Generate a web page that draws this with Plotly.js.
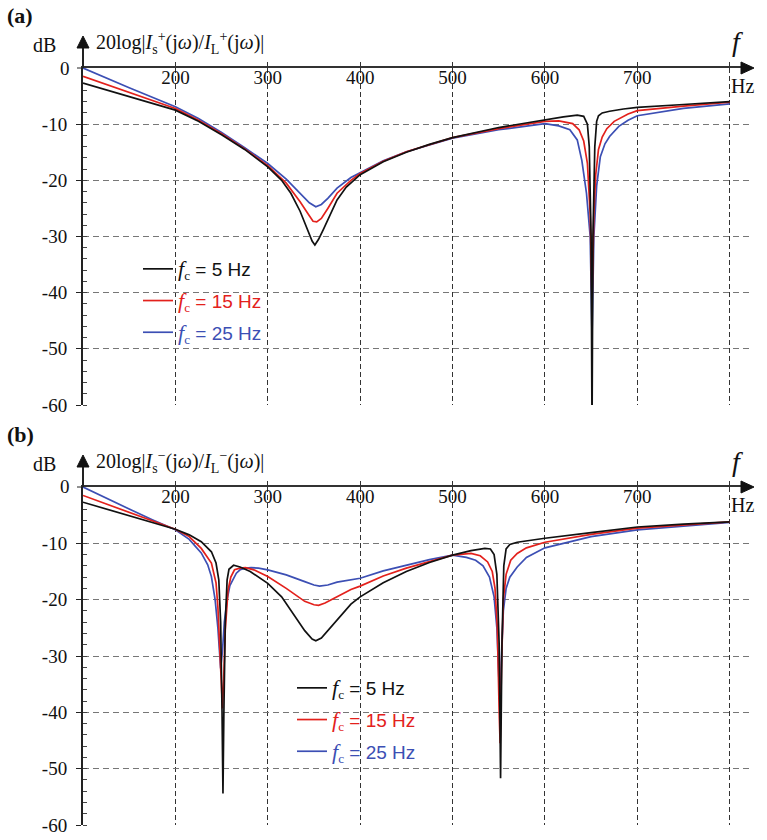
<!DOCTYPE html>
<html><head><meta charset="utf-8">
<script src="https://cdn.plot.ly/plotly-3.0.1.min.js"></script>
<style>html,body{margin:0;padding:0;background:#fff}#chart{width:767px;height:840px}</style>
</head><body><div id="chart"></div>
<script>
// ---------- data ----------
const fcValues = [5, 15, 25];
const seriesColors = ['#111111', '#e3211c', '#3c4fb4'];

const xTickVals = [200, 300, 400, 500, 600, 700, 800];
const xTickText = ['200', '300', '400', '500', '600', '700', ''];
const yTickVals = [0, -10, -20, -30, -40, -50, -60];
const yTickText = ['0', '-10', '-20', '-30', '-40', '-50', '-60'];

// Panel (a): positive sequence
const freqA5 = [100,125,150,175,200,225,250,275,300,315,325,335,342,348,351,355,360,368,375,385,400,425,450,475,500,550,600,620,635,642,646,648,650,651,652,654,656,658,662,670,685,700,750,800];
const dbA5   = [-2.7,-3.9,-5.0,-6.2,-7.5,-9.5,-11.9,-14.5,-17.6,-20.0,-22.3,-25.5,-28.3,-30.8,-31.5,-30.5,-28.8,-26.0,-23.5,-21.2,-19.0,-16.7,-15.0,-13.6,-12.4,-10.6,-9.2,-8.7,-8.4,-8.6,-10.0,-14.0,-30.0,-65.0,-30.0,-14.0,-9.5,-8.5,-8.0,-7.7,-7.3,-7.0,-6.5,-6.0];
const freqA15 = [100,125,150,175,200,225,250,275,300,320,335,343,349,353,358,365,375,390,400,425,450,500,550,600,615,630,637,642,646,649,651,653,655,658,662,667,675,690,700,750,800];
const dbA15   = [-1.5,-2.9,-4.3,-5.7,-7.2,-9.3,-11.7,-14.4,-17.4,-20.5,-23.8,-25.8,-27.3,-27.4,-26.8,-25.0,-22.3,-20.0,-18.8,-16.6,-14.9,-12.4,-10.8,-9.5,-9.4,-9.9,-11.0,-13.0,-17.0,-26.0,-42.0,-26.0,-19.0,-14.5,-12.3,-10.8,-9.5,-8.2,-7.6,-6.8,-6.1];
const freqA25 = [100,125,150,175,200,225,250,275,300,320,335,345,352,358,365,375,390,400,425,450,500,550,600,615,627,635,640,645,649,651,653,656,660,665,670,680,690,700,750,800];
const dbA25   = [0,-1.8,-3.5,-5.2,-6.9,-9.0,-11.5,-14.2,-17.0,-19.8,-22.3,-24.0,-24.7,-24.3,-23.2,-21.4,-19.5,-18.6,-16.5,-14.9,-12.5,-11.0,-9.9,-10.3,-11.0,-12.8,-16.5,-22.3,-30.0,-48.0,-30.0,-21.0,-15.8,-13.5,-12.2,-10.4,-9.3,-8.5,-7.2,-6.4];

// Panel (b): negative sequence
const freqB5 = [100,125,150,175,200,215,228,239,244,247,249,250.5,251.5,252.5,254,256,258,263,270,281,300,315,330,340,348,352,358,365,375,390,400,425,450,475,500,520,535,541,545,548,550.5,552,553.5,555.5,558,562,570,585,600,650,700,750,800];
const dbB5   = [-2.7,-3.9,-5.0,-6.2,-7.5,-8.5,-9.7,-11.5,-13.5,-16.5,-24.0,-40.0,-54.4,-40.0,-24.0,-16.5,-14.6,-13.9,-14.2,-15.0,-17.1,-19.5,-23.0,-25.5,-27.0,-27.3,-26.8,-25.5,-23.5,-20.8,-19.5,-17.0,-15.0,-13.4,-12.1,-11.3,-10.9,-11.0,-12.0,-15.5,-28.0,-51.7,-28.0,-14.0,-11.0,-10.2,-9.8,-9.4,-9.1,-8.1,-7.1,-6.6,-6.2];
const freqB15 = [100,125,150,175,200,215,228,239,244,246,248,250,251,252.5,254,257,260,264,270,276,285,300,320,340,350,355,362,375,390,400,425,450,475,500,520,530,538,543,546,548.5,550.5,551.5,553,555,558,563,570,580,600,650,700,750,800];
const dbB15   = [-1.5,-3.0,-4.5,-6.0,-7.5,-8.8,-10.9,-13.5,-17.0,-21.3,-28.0,-34.0,-39.3,-33.0,-25.4,-18.3,-16.0,-14.7,-14.4,-14.3,-14.7,-15.9,-18.0,-20.3,-20.9,-21.0,-20.6,-19.5,-18.2,-17.6,-15.8,-14.4,-13.2,-12.1,-11.8,-12.2,-13.3,-15.0,-18.0,-25.0,-40.0,-45.5,-32.0,-20.0,-15.5,-13.0,-11.8,-10.8,-9.8,-8.4,-7.3,-6.7,-6.2];
const freqB25 = [100,125,150,175,200,215,228,235,239,243,246,249,251,253,256,259,262,266,270,276,282,290,300,320,340,350,356,365,375,390,400,425,450,475,500,515,525,533,540,545,548,550,551.5,553,555,558,562,570,580,600,650,700,750,800];
const dbB25   = [0,-2.0,-3.9,-5.8,-7.6,-9.3,-11.7,-13.8,-15.9,-20.0,-25.0,-32.2,-29.0,-24.0,-20.0,-17.5,-16.5,-15.3,-14.7,-14.4,-14.3,-14.4,-14.7,-15.6,-16.8,-17.4,-17.6,-17.4,-16.9,-16.4,-16.2,-14.9,-13.9,-12.9,-12.1,-12.5,-13.0,-14.0,-16.0,-19.5,-25.0,-33.0,-39.6,-30.0,-22.0,-18.0,-16.0,-14.2,-12.5,-10.8,-8.8,-7.6,-6.9,-6.3];

// ---------- layout helpers (pixel -> paper) ----------
const L = 83, R = 750, T = 68, B = 825;
const px = x => (x - L) / (R - L);
const py = y => (B - y) / (B - T);
const SERIF = 'Liberation Serif';
const SANS = 'Liberation Sans';

function legendName(i) {
  return '<span style="color:' + seriesColors[i] + '">' +
    '<span style="font-family:Liberation Serif;font-style:italic;font-size:22px">f</span>' +
    '<sub><span style="font-family:Liberation Serif">c</span></sub> = ' + fcValues[i] + ' Hz</span>';
}

const panelA = [[freqA5, dbA5], [freqA15, dbA15], [freqA25, dbA25]];
const panelB = [[freqB5, dbB5], [freqB15, dbB15], [freqB25, dbB25]];

const traces = [];
[2, 1, 0].forEach(i => {
  traces.push({
    x: panelA[i][0], y: panelA[i][1], xaxis: 'x', yaxis: 'y', mode: 'lines',
    line: {color: seriesColors[i], width: 1.7}, name: legendName(i),
    legend: 'legend', legendrank: i + 1, legendgroup: 'a' + i, hoverinfo: 'skip'
  });
});
[2, 1, 0].forEach(i => {
  traces.push({
    x: panelB[i][0], y: panelB[i][1], xaxis: 'x2', yaxis: 'y2', mode: 'lines',
    line: {color: seriesColors[i], width: 1.7}, name: legendName(i),
    legend: 'legend2', legendrank: i + 1, legendgroup: 'b' + i, hoverinfo: 'skip'
  });
});

function xAxis(anchor) {
  return {
    anchor: anchor, domain: [0, 1], range: [100, 822], side: 'top',
    showline: true, linecolor: '#333', linewidth: 2,
    tickmode: 'array', tickvals: xTickVals, ticktext: xTickText,
    ticks: 'outside', ticklen: 4, tickcolor: '#333', tickwidth: 1,
    ticklabelposition: 'inside', ticklabelstandoff: 4,
    showgrid: true, gridcolor: '#333', griddash: '5px,3px', gridwidth: 1,
    zeroline: false, tickfont: {family: SERIF, size: 19, color: '#111'}, fixedrange: true
  };
}
function yAxis(anchor, domain) {
  return {
    anchor: anchor, domain: domain, range: [-60, 0],
    tickmode: 'array', tickvals: yTickVals, ticktext: yTickText,
    ticks: 'outside', ticklen: 5, tickcolor: '#222',
    showline: true, linecolor: '#222', linewidth: 2,
    showgrid: true, gridcolor: '#777', griddash: '6px,4px', gridwidth: 1,
    zeroline: false, ticklabelstandoff: 5,
    tickfont: {family: SERIF, size: 19, color: '#111'},
    minor: {tickmode: 'linear', tick0: 0, dtick: 2, ticks: 'inside', ticklen: 4, tickcolor: '#444', showgrid: false},
    fixedrange: true
  };
}

function ann(text, x, y, size, opts) {
  return Object.assign({
    text: text, xref: 'paper', yref: 'paper', x: px(x), y: py(y),
    xanchor: 'center', yanchor: 'middle', showarrow: false,
    font: {family: SERIF, size: size, color: '#111'}
  }, opts || {});
}

const annotations = [];
const shapes = [];
[[0, '(a)', '+', 'y'], [419, '(b)', '−', 'y2']].forEach(([dy, lab, sgn, yref]) => {
  annotations.push(ann('<b>' + lab + '</b>', 5, 15 + dy, 22, {xanchor: 'left'}));
  annotations.push(ann('dB', 44, 45 + dy, 20));
  annotations.push(ann('20log|<i>I</i><sub>s</sub><sup>' + sgn + '</sup>(j<i>ω</i>)/<i>I</i><sub>L</sub><sup>' + sgn + '</sup>(j<i>ω</i>)|', 94, 43 + dy, 20, {xanchor: 'left'}));
  annotations.push(ann('<i>f</i>', 737, 42 + dy, 28));
  annotations.push(ann('Hz', 729, 86 + dy, 20, {xanchor: 'left'}));
  // "0" label at the top of the y axis (hidden by plotly next to the inside x labels)
  annotations.push({text: yTickText[0], xref: 'paper', yref: yref, x: px(72), y: yTickVals[0],
    xanchor: 'right', yanchor: 'middle', showarrow: false,
    font: {family: SERIF, size: 19, color: '#111'}});
  // x-axis arrow head
  const yA = 68 + dy;
  shapes.push({type: 'path', xref: 'paper', yref: 'paper',
    path: 'M' + px(741) + ',' + py(yA - 6) + ' L' + px(754) + ',' + py(yA) + ' L' + px(741) + ',' + py(yA + 6) + ' Z',
    fillcolor: '#111', line: {color: '#111', width: 1}});
  // y-axis extension and arrow head
  shapes.push({type: 'line', xref: 'paper', yref: 'paper', x0: px(83), x1: px(83), y0: py(yA), y1: py(yA - 22),
    line: {color: '#222', width: 2}});
  shapes.push({type: 'path', xref: 'paper', yref: 'paper',
    path: 'M' + px(77) + ',' + py(yA - 20) + ' L' + px(83) + ',' + py(yA - 32) + ' L' + px(89) + ',' + py(yA - 20) + ' Z',
    fillcolor: '#111', line: {color: '#111', width: 1}});
  // small tick left of the axis at 0
  shapes.push({type: 'line', xref: 'paper', yref: 'paper', x0: px(77), x1: px(83), y0: py(yA), y1: py(yA),
    line: {color: '#222', width: 1}});
});

const legendCommon = {
  xanchor: 'left', yanchor: 'top', bgcolor: 'rgba(0,0,0,0)', borderwidth: 0,
  font: {family: SANS, size: 19, color: '#111'}, tracegroupgap: 4, itemwidth: 30,
  traceorder: 'grouped'
};

const layout = {
  width: 767, height: 840,
  margin: {l: L, r: 767 - R, t: T, b: 840 - B, pad: 0},
  paper_bgcolor: '#fff', plot_bgcolor: '#fff',
  xaxis: xAxis('y'),
  yaxis: yAxis('x', [py(405), 1]),
  xaxis2: xAxis('y2'),
  yaxis2: yAxis('x2', [0, py(487)]),
  legend: Object.assign({x: px(138), y: py(250)}, legendCommon),
  legend2: Object.assign({x: px(292), y: py(669)}, legendCommon),
  annotations: annotations,
  shapes: shapes,
  showlegend: true
};

Plotly.newPlot('chart', traces, layout, {staticPlot: true, displayModeBar: false});
</script></body></html>
